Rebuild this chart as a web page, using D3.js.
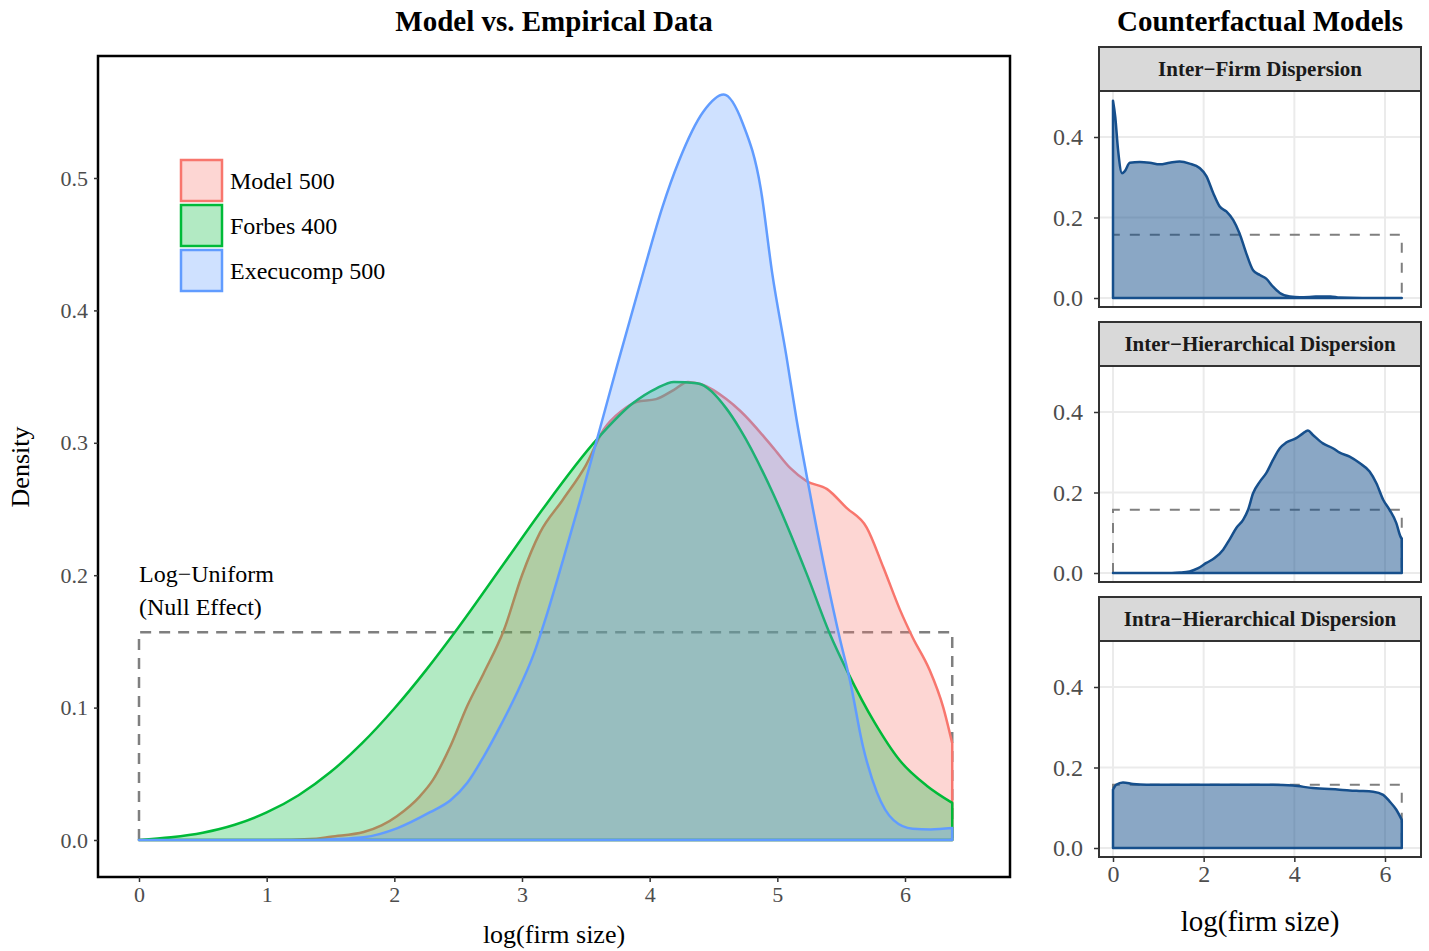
<!DOCTYPE html>
<html>
<head>
<meta charset="utf-8">
<script src="https://cdn.jsdelivr.net/npm/d3@7"></script>
<style>
  body { margin: 0; background: #fff; }
  text { font-family: "Liberation Serif", "DejaVu Serif", serif; }
</style>
</head>
<body>
<svg id="chart" width="1429" height="951"></svg>
<script>
// ---- data ----
var xMax = 6.37;
var uniformDensity = 1 / xMax;

var seriesNames = ["Model 500", "Forbes 400", "Execucomp 500"];
var seriesColors = ["#F8766D", "#00BA38", "#619CFF"];

var model500 = [[0,0],[1.0,0],[1.39,0.001],[1.5,0.0025],[1.76,0.006],[1.9,0.011],[2.02,0.018],[2.2,0.033],[2.3,0.045],[2.44,0.071],[2.57,0.101],[2.7,0.126],[2.86,0.159],[3.0,0.2],[3.14,0.232],[3.32,0.257],[3.5,0.283],[3.64,0.31],[3.78,0.324],[3.9,0.331],[4.05,0.333],[4.19,0.34],[4.3,0.346],[4.41,0.344],[4.6,0.333],[4.71,0.324],[4.97,0.296],[5.1,0.281],[5.23,0.271],[5.39,0.265],[5.54,0.251],[5.7,0.236],[5.83,0.206],[5.96,0.174],[6.06,0.153],[6.19,0.129],[6.3,0.1],[6.37,0.073]];

var forbes400 = [[0,0],[0.25,0.002],[0.5,0.0055],[0.75,0.0115],[1.0,0.0208],[1.25,0.0338],[1.5,0.0513],[1.75,0.0733],[2.0,0.0993],[2.25,0.1285],[2.5,0.1603],[2.86,0.209],[3.14,0.247],[3.59,0.303],[3.87,0.33],[4.05,0.341],[4.19,0.346],[4.37,0.345],[4.6,0.326],[4.71,0.31],[4.97,0.261],[5.23,0.201],[5.41,0.156],[5.55,0.127],[5.76,0.089],[5.96,0.06],[6.17,0.041],[6.37,0.028]];

var execucomp500 = [[0,0],[1.3,0],[1.6,0.001],[1.76,0.002],[2.02,0.0088],[2.28,0.021],[2.44,0.03],[2.57,0.043],[2.7,0.063],[2.83,0.086],[2.96,0.111],[3.09,0.14],[3.2,0.172],[3.32,0.211],[3.46,0.258],[3.6,0.307],[3.75,0.36],[3.96,0.432],[4.1,0.478],[4.23,0.513],[4.42,0.55],[4.58,0.563],[4.73,0.541],[4.87,0.492],[4.96,0.428],[5.07,0.366],[5.15,0.318],[5.24,0.27],[5.39,0.196],[5.49,0.152],[5.57,0.12],[5.67,0.071],[5.78,0.036],[5.91,0.015],[6.06,0.0085],[6.2,0.008],[6.37,0.009]];

var facetNames = ["Inter\u2212Firm Dispersion", "Inter\u2212Hierarchical Dispersion", "Intra\u2212Hierarchical Dispersion"];

var interFirm = [[0,0.49],[0.05,0.45],[0.11,0.37],[0.2,0.31],[0.26,0.315],[0.37,0.336],[0.59,0.338],[0.81,0.336],[1.03,0.332],[1.25,0.336],[1.47,0.339],[1.69,0.334],[1.91,0.323],[2.06,0.303],[2.21,0.261],[2.35,0.228],[2.5,0.215],[2.65,0.194],[2.79,0.161],[2.94,0.111],[3.09,0.069],[3.24,0.057],[3.38,0.048],[3.53,0.028],[3.68,0.0125],[3.9,0.004],[4.12,0.002],[4.4,0.003],[4.6,0.004],[4.8,0.004],[5.0,0.001],[5.5,0],[6.37,0]];

var interHier = [[0,0],[1.3,0],[1.47,0.001],[1.69,0.004],[1.88,0.012],[2.06,0.025],[2.24,0.037],[2.43,0.058],[2.57,0.083],[2.72,0.112],[2.87,0.132],[2.98,0.157],[3.09,0.198],[3.24,0.227],[3.38,0.248],[3.53,0.281],[3.68,0.31],[3.82,0.324],[4.04,0.335],[4.19,0.347],[4.3,0.354],[4.41,0.343],[4.63,0.322],[4.85,0.31],[5.0,0.299],[5.22,0.289],[5.44,0.273],[5.66,0.252],[5.81,0.223],[5.96,0.182],[6.1,0.157],[6.25,0.124],[6.34,0.091],[6.37,0.085]];

var intraHier = [[0,0.145],[0.07,0.157],[0.22,0.163],[0.44,0.159],[0.74,0.157],[2.06,0.157],[3.53,0.157],[3.97,0.155],[4.41,0.149],[5.0,0.145],[5.37,0.142],[5.74,0.14],[5.96,0.132],[6.1,0.116],[6.25,0.095],[6.37,0.07]];

var mainXTicks = [0, 1, 2, 3, 4, 5, 6];
var mainYTicks = [0, 0.1, 0.2, 0.3, 0.4, 0.5];
var facetXTicks = [0, 2, 4, 6];
var facetYTicks = [0, 0.2, 0.4];

// ---- drawing ----
var svg = d3.select("#chart");
svg.append("rect").attr("width", 1429).attr("height", 951).attr("fill", "#fff");

var uniformBox = [[0, 0], [0, uniformDensity], [xMax, uniformDensity], [xMax, 0]];

function drawDensity(g, data, x, y, color, fillOpacity, lw) {
	var area = d3.area()
		.curve(d3.curveMonotoneX)
		.x(function(d) { return x(d[0]); })
		.y0(y(0))
		.y1(function(d) { return y(d[1]); });
	g.append("path")
		.attr("d", area(data) + "Z")
		.attr("fill", color)
		.attr("fill-opacity", fillOpacity)
		.attr("stroke", "none");
	g.append("path")
		.attr("d", area(data) + "Z")
		.attr("fill", "none")
		.attr("stroke", color)
		.attr("stroke-width", lw)
		.attr("stroke-linejoin", "round");
}

function styleAxis(ax, size, color) {
	ax.select(".domain").remove();
	ax.selectAll(".tick line").attr("stroke", "#333").attr("stroke-width", 1.5);
	ax.selectAll(".tick text")
		.attr("fill", color)
		.style("font-size", size + "px")
		.style("font-family", "Liberation Serif, serif");
}

// main panel
var mx = d3.scaleLinear().domain([0, 6]).range([139, 905]);
var my = d3.scaleLinear().domain([0, 0.5]).range([840, 178]);
var panel = { left: 98, right: 1010, top: 56, bottom: 877 };

var main = svg.append("g");
var boxLine = d3.line().x(function(d) { return mx(d[0]); }).y(function(d) { return my(d[1]); });
main.append("path")
	.attr("d", boxLine(uniformBox))
	.attr("fill", "none")
	.attr("stroke", "#7F7F7F")
	.attr("stroke-width", 2.5)
	.attr("stroke-dasharray", "11,8");

[model500, forbes400, execucomp500].forEach(function(s, i) {
	drawDensity(main, s, mx, my, seriesColors[i], 0.3, 2.5);
});

main.append("rect")
	.attr("x", panel.left).attr("y", panel.top)
	.attr("width", panel.right - panel.left).attr("height", panel.bottom - panel.top)
	.attr("fill", "none").attr("stroke", "#000").attr("stroke-width", 2.5);

var mxAxis = main.append("g").attr("transform", "translate(0," + panel.bottom + ")")
	.call(d3.axisBottom(mx).tickValues(mainXTicks).tickSize(5).tickPadding(4).tickFormat(d3.format("d")));
styleAxis(mxAxis, 22, "#4D4D4D");
var myAxis = main.append("g").attr("transform", "translate(" + panel.left + ",0)")
	.call(d3.axisLeft(my).tickValues(mainYTicks).tickSize(4).tickPadding(6).tickFormat(d3.format(".1f")));
styleAxis(myAxis, 22, "#4D4D4D");

main.append("text").attr("x", 554).attr("y", 31).attr("text-anchor", "middle")
	.style("font-size", "29px").style("font-weight", "bold").text("Model vs. Empirical Data");
main.append("text").attr("x", 554).attr("y", 943).attr("text-anchor", "middle")
	.style("font-size", "26px").text("log(firm size)");
main.append("text").attr("transform", "translate(29,467) rotate(-90)").attr("text-anchor", "middle")
	.style("font-size", "26px").text("Density");

main.append("text").attr("x", 139).attr("y", 582).style("font-size", "24px").text("Log\u2212Uniform");
main.append("text").attr("x", 139).attr("y", 615).style("font-size", "24px").text("(Null Effect)");

// legend
var legend = main.append("g");
seriesNames.forEach(function(name, i) {
	var top = 159 + i * 45;
	legend.append("rect")
		.attr("x", 181).attr("y", top + 1).attr("width", 41).attr("height", 41)
		.attr("fill", seriesColors[i]).attr("fill-opacity", 0.3)
		.attr("stroke", seriesColors[i]).attr("stroke-width", 2.5);
	legend.append("text").attr("x", 230).attr("y", top + 30)
		.style("font-size", "24px").text(name);
});

// facet panels
var fx = d3.scaleLinear().domain([0, 6]).range([1113, 1385]);
var facetData = [interFirm, interHier, intraHier];
var facetZero = [298, 573, 848];
var facetColor = "#164F8C";

svg.append("text").attr("x", 1260).attr("y", 31).attr("text-anchor", "middle")
	.style("font-size", "29px").style("font-weight", "bold").text("Counterfactual Models");

facetData.forEach(function(data, i) {
	var y0 = facetZero[i];
	var fy = d3.scaleLinear().domain([0, 0.4]).range([y0, y0 - 161]);
	var g = svg.append("g");
	var pTop = y0 - 207, pBottom = y0 + 9, pLeft = 1099, pRight = 1421;

	// grid
	g.selectAll(".gx").data(facetXTicks).enter().append("line")
		.attr("x1", function(d) { return fx(d); }).attr("x2", function(d) { return fx(d); })
		.attr("y1", pTop).attr("y2", pBottom)
		.attr("stroke", "#EBEBEB").attr("stroke-width", 2);
	g.selectAll(".gy").data(facetYTicks).enter().append("line")
		.attr("x1", pLeft).attr("x2", pRight)
		.attr("y1", function(d) { return fy(d); }).attr("y2", function(d) { return fy(d); })
		.attr("stroke", "#EBEBEB").attr("stroke-width", 2);

	var fl = d3.line().x(function(d) { return fx(d[0]); }).y(function(d) { return fy(d[1]); });
	g.append("path").attr("d", fl(uniformBox))
		.attr("fill", "none").attr("stroke", "#7F7F7F").attr("stroke-width", 2)
		.attr("stroke-dasharray", "10,10");

	drawDensity(g, data, fx, fy, facetColor, 0.5, 2.5);

	g.append("rect").attr("x", pLeft).attr("y", pTop)
		.attr("width", pRight - pLeft).attr("height", pBottom - pTop)
		.attr("fill", "none").attr("stroke", "#333").attr("stroke-width", 2);

	// strip
	g.append("rect").attr("x", pLeft).attr("y", y0 - 251)
		.attr("width", pRight - pLeft).attr("height", 44)
		.attr("fill", "#D9D9D9").attr("stroke", "#333").attr("stroke-width", 2);
	g.append("text").attr("x", (pLeft + pRight) / 2).attr("y", y0 - 222)
		.attr("text-anchor", "middle").attr("fill", "#1A1A1A")
		.style("font-size", "21px").style("font-weight", "bold").text(facetNames[i]);

	var ya = g.append("g").attr("transform", "translate(" + pLeft + ",0)")
		.call(d3.axisLeft(fy).tickValues(facetYTicks).tickSize(5).tickPadding(11).tickFormat(d3.format(".1f")));
	styleAxis(ya, 24, "#4D4D4D");

	if (i === facetData.length - 1) {
		var xa = g.append("g").attr("transform", "translate(0," + pBottom + ")")
			.call(d3.axisBottom(fx).tickValues(facetXTicks).tickSize(5).tickPadding(3).tickFormat(d3.format("d")));
		styleAxis(xa, 24, "#4D4D4D");
	}
});

svg.append("text").attr("x", 1260).attr("y", 931).attr("text-anchor", "middle")
	.style("font-size", "29px").text("log(firm size)");
</script>
</body>
</html>
